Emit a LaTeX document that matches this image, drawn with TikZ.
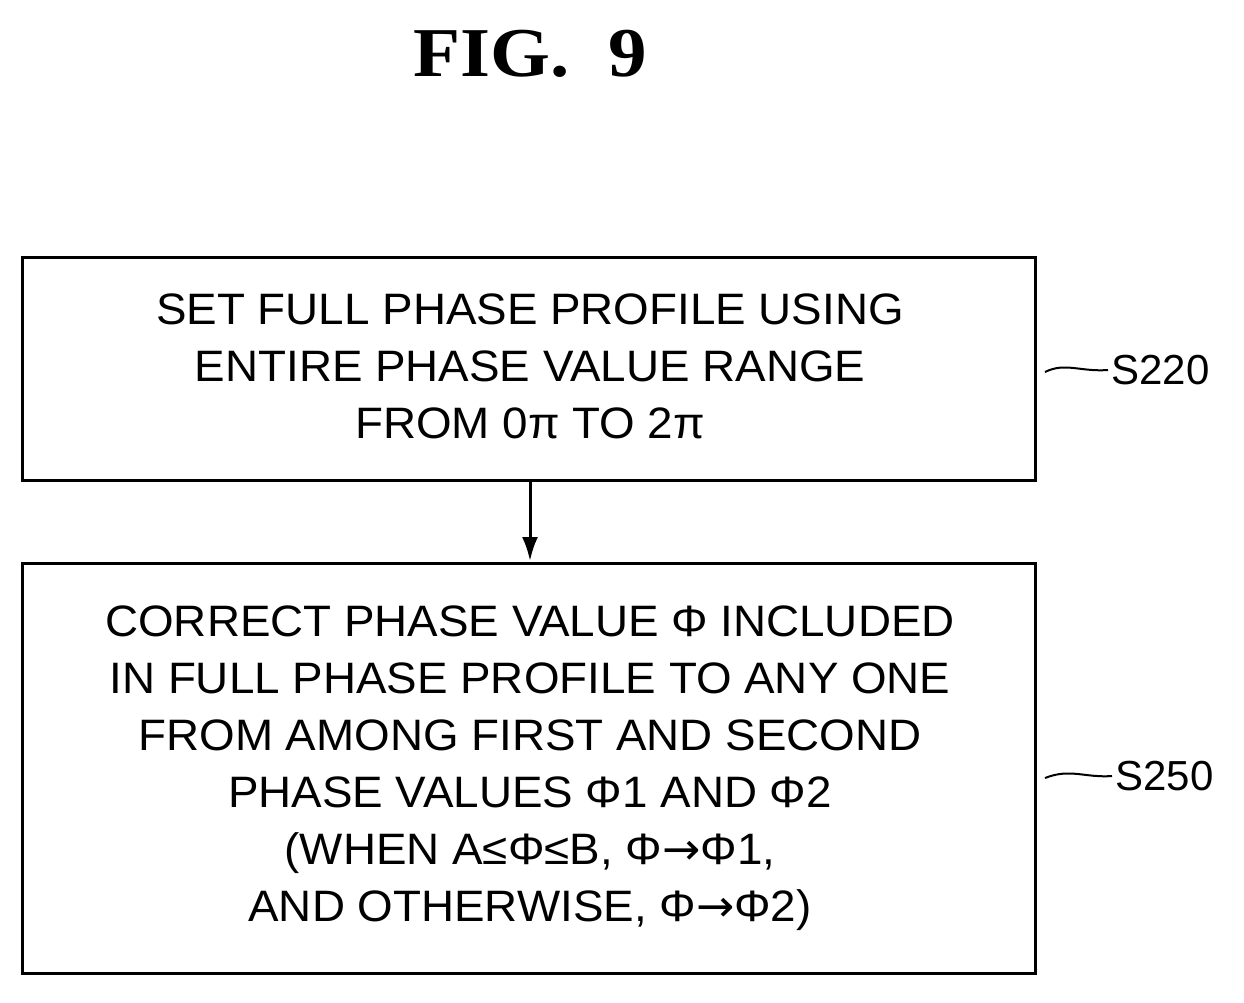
\documentclass[tikz,border=0pt]{standalone}
\usetikzlibrary{arrows.meta}
\usepackage{fontspec}
\setmainfont{Liberation Sans}
\newfontfamily\titlefont{Liberation Serif}
\newfontfamily\symfont{DejaVu Sans}
\newcommand{\myarr}{{\symfont →}}
\begin{document}
\begin{tikzpicture}[x=1pt,y=-1pt,
  box/.style={draw,line width=3pt},
  txt/.style={font=\fontsize{44}{57}\selectfont,align=center,xscale=1.04},
  lab/.style={font=\fontsize{42}{50}\selectfont,anchor=west}]
\useasboundingbox (0,0) rectangle (1244,1002);
\node[font=\titlefont\bfseries\fontsize{70}{76}\selectfont,xscale=1.1] (title) at (530,54) {FIG.\ \ 9};
\draw[box] (22,257) rectangle (1035,480);
\draw[box] (22,563) rectangle (1035,973);
\node[txt] (t1) at (530,366) {SET FULL PHASE PROFILE USING\\ENTIRE PHASE VALUE RANGE\\FROM 0π TO 2π};
\node[txt] (t2) at (530,768) {CORRECT PHASE VALUE Φ INCLUDED\\IN FULL PHASE PROFILE TO ANY ONE\\FROM AMONG FIRST AND SECOND\\PHASE VALUES Φ1 AND Φ2\\(WHEN A≤Φ≤B, Φ\myarr Φ1,\\AND OTHERWISE, Φ\myarr Φ2)};
\coordinate (a1) at (530,482);
\coordinate (a2) at (530,561);
\draw[line width=3pt,-{Latex[length=24pt,width=16pt]}] (a1) -- (a2);
\node[lab] (s220) at (1108,370) {S220};
\node[lab] (s250) at (1112,776) {S250};
\coordinate (c1) at (1045,372);
\coordinate (c2) at (1045,778);
\draw[line width=2pt] (c1) .. controls (1065,362) and (1080,372) .. (s220.west);
\draw[line width=2pt] (c2) .. controls (1070,768) and (1085,778) .. (s250.west);
\end{tikzpicture}
\end{document}
